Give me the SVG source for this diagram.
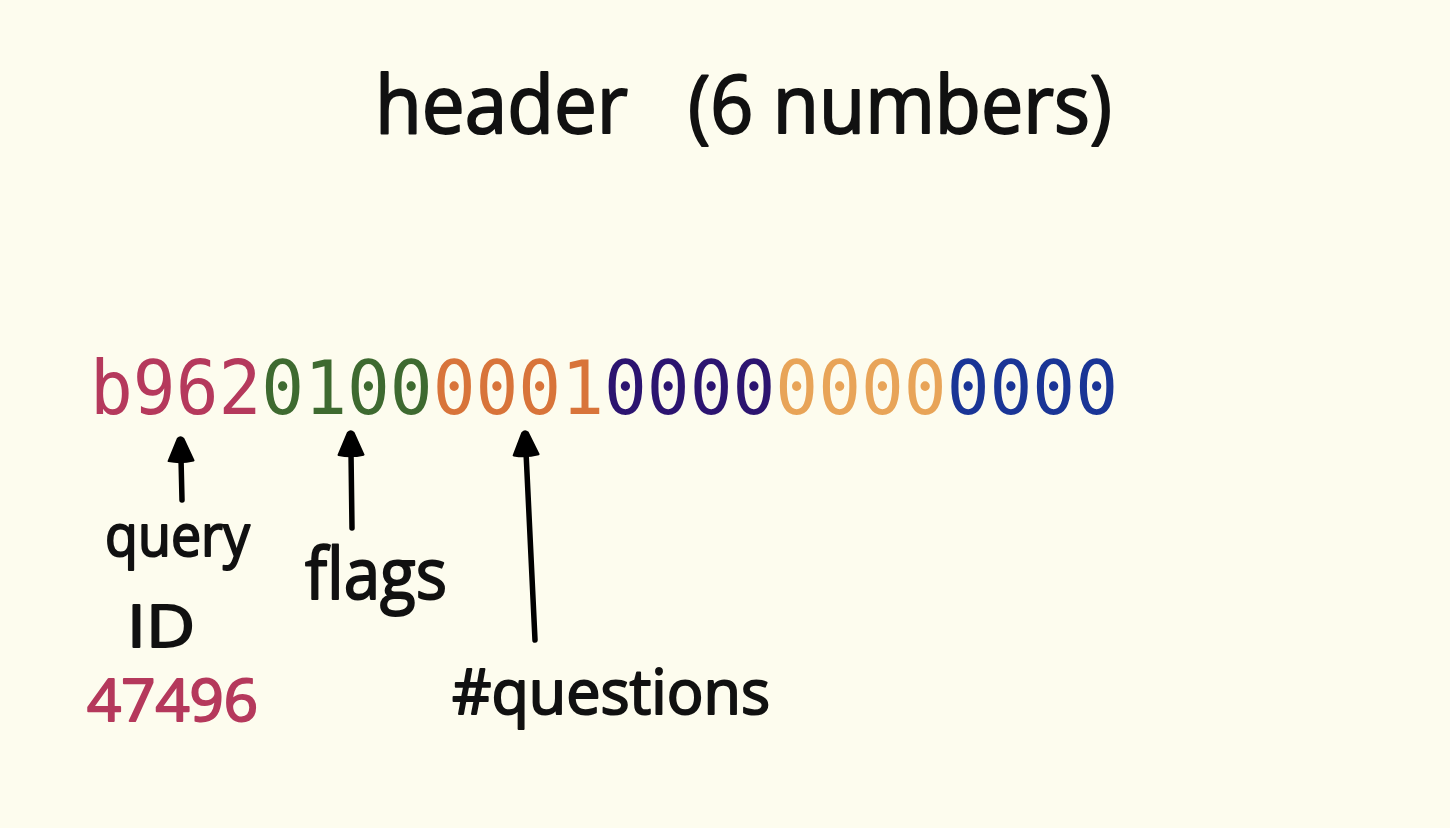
<svg xmlns="http://www.w3.org/2000/svg" width="1450" height="828" viewBox="0 0 1450 828">
<defs>
<style>
.hand{font-family:"Open Sans","DejaVu Sans",sans-serif;fill:#111;stroke:#111;stroke-width:2;stroke-linejoin:round}
.hex{font-family:"DejaVu Sans Mono","Liberation Mono",monospace;font-size:74px}
.conn{stroke:#000;stroke-width:5.5;stroke-linecap:round;fill:none}
</style>
<marker id="ah" viewBox="0 0 10 10" refX="2" refY="5" markerWidth="5" markerHeight="5" orient="auto" markerUnits="strokeWidth">
<path d="M1 0.5 Q0 5 1 9.5 L9 6 Q10 5 9 4 Z" fill="#000" stroke="#000" stroke-linejoin="round" stroke-width="0.8"/>
</marker>
</defs>
<rect width="1450" height="828" fill="#fdfcee"/>
<g id="title">
<text class="hand" x="375" y="133" font-size="80" textLength="253" lengthAdjust="spacingAndGlyphs">header</text>
<text class="hand" x="688" y="133" font-size="80" textLength="424" lengthAdjust="spacingAndGlyphs">(6 numbers)</text>
</g>
<g id="hexstring"><text class="hex" x="90" y="414" textLength="1028" lengthAdjust="spacingAndGlyphs"><tspan fill="#b5395c">b962</tspan><tspan fill="#3e6a30">0100</tspan><tspan fill="#d8743a">0001</tspan><tspan fill="#2c1470">0000</tspan><tspan fill="#e8a458">0000</tspan><tspan fill="#1a3596">0000</tspan></text></g>
<g id="connectors">
<path class="conn" d="M182 500 L181 458" marker-end="url(#ah)"/>
<path class="conn" d="M352 528 L351 452" marker-end="url(#ah)"/>
<path class="conn" d="M535 640 L526 452" marker-end="url(#ah)"/>
</g>
<g id="queryid">
<text class="hand" x="105" y="556" font-size="58" textLength="145" lengthAdjust="spacingAndGlyphs">query</text>
<text class="hand" x="127" y="647" font-size="58" textLength="68" lengthAdjust="spacingAndGlyphs">ID</text>
<text class="hand" x="87" y="721" font-size="58" textLength="171" lengthAdjust="spacingAndGlyphs" style="fill:#b5395c;stroke:#b5395c">47496</text>
</g>
<g id="flags"><text class="hand" x="305" y="599" font-size="72" textLength="142" lengthAdjust="spacingAndGlyphs">flags</text></g>
<g id="questions"><text class="hand" x="452" y="714" font-size="62" textLength="318" lengthAdjust="spacingAndGlyphs">#questions</text></g>
</svg>
